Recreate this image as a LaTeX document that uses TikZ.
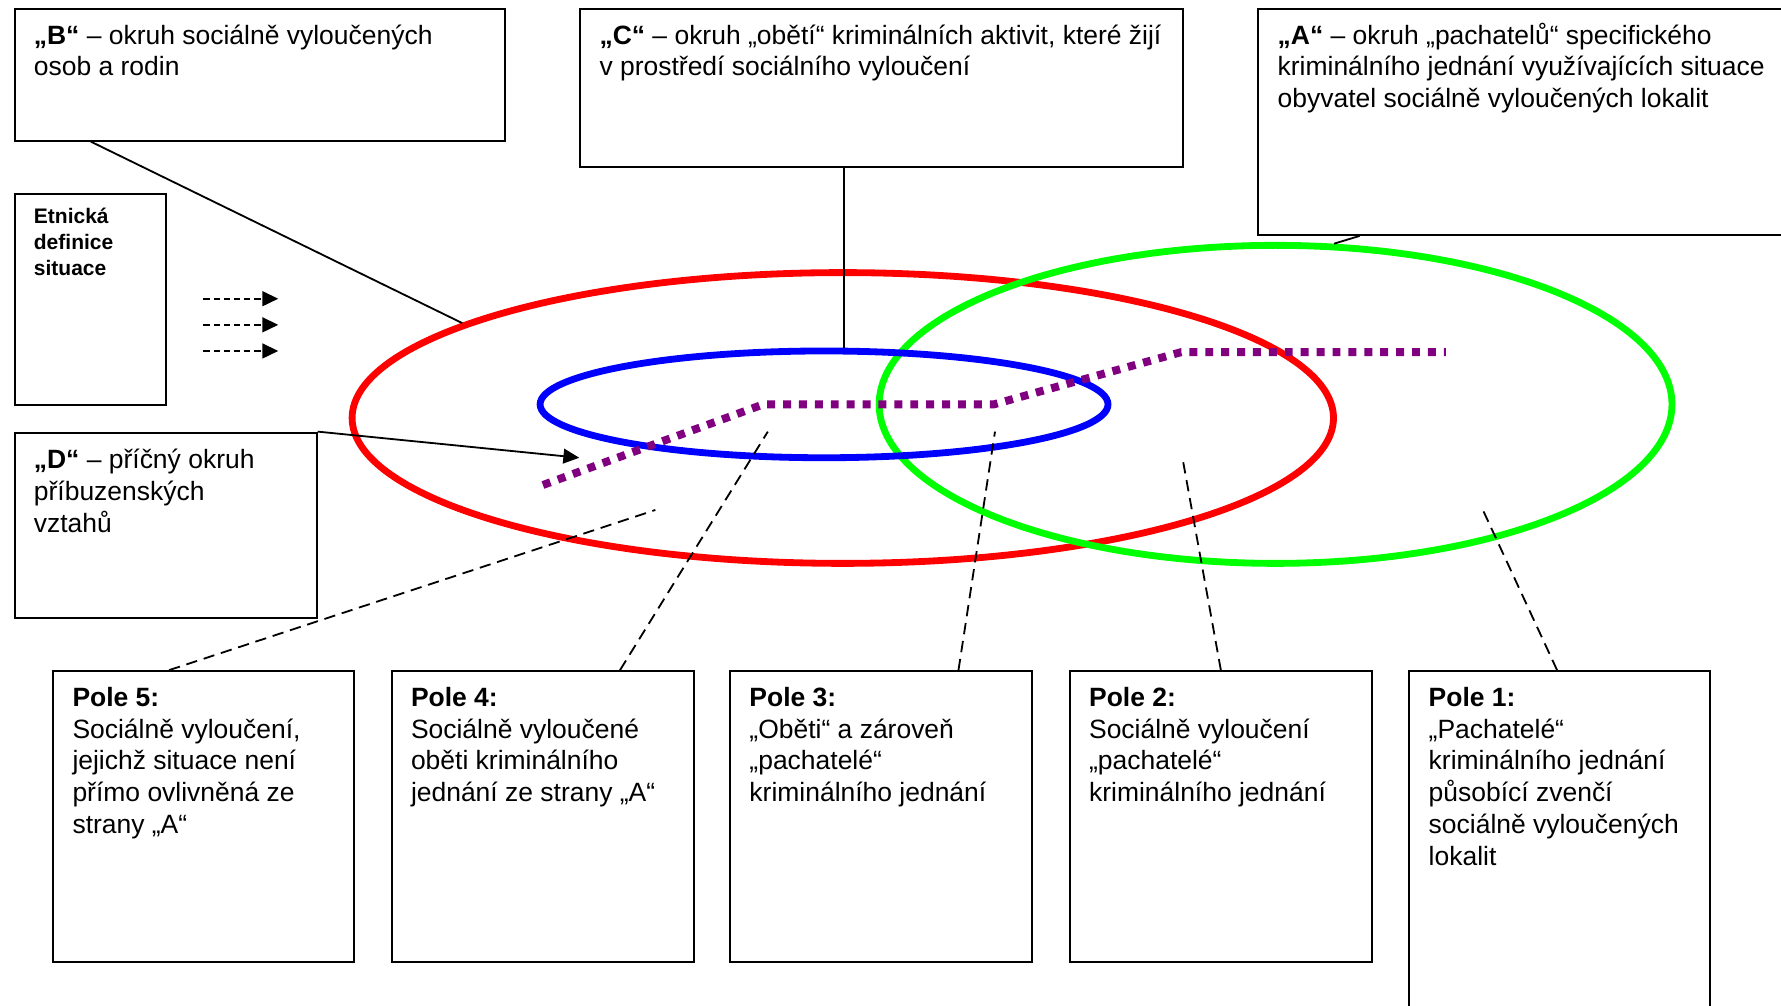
\documentclass[tikz,border=0pt]{standalone}
\usepackage{fontspec}
\setmainfont{Liberation Sans}
\usetikzlibrary{arrows.meta,shapes.geometric}
\definecolor{purpdot}{HTML}{800080}
\definecolor{ringred}{HTML}{FF0000}
\definecolor{ringgreen}{HTML}{00FF00}
\definecolor{ringblue}{HTML}{0000FF}
\newcommand{\bxtext}[4][31pt]{\parbox[c][#3][t]{#2}{\raggedright\rule{0pt}{#1}#4}}
\tikzset{
  box/.style={draw=black, line width=1.7pt, fill=white, inner xsep=17pt, inner ysep=0pt,
    anchor=north west, font=\fontsize{23.3}{28}\selectfont},
  smallbox/.style={box, font=\fontsize{18.5}{23}\selectfont\bfseries},
  ring/.style={ellipse, draw, line width=6pt, inner sep=0pt},
  link/.style={draw=black, line width=1.6pt},
  dashlink/.style={draw=black, line width=1.6pt, dash pattern=on 10pt off 6pt},
  etnarrow/.style={draw=black, line width=1.8pt, dash pattern=on 5.5pt off 3.5pt,
    -{Triangle[length=14pt,width=13pt]}},
  purp/.style={draw=purpdot, line width=7pt, dash pattern=on 7pt off 7pt},
}
\begin{document}
\begin{tikzpicture}[x=1pt,y=-1pt]
\useasboundingbox (0,0) rectangle (1568,885);
\clip (0,0) rectangle (1568,885);
\fill[white] (0,0) rectangle (1568,885);

% top boxes
\node[box] (B) at (12,7) {\bxtext{398pt}{116pt}{\textbf{„B“} – okruh sociálně vyloučených\\osob a rodin}};
\node[box] (C) at (510,7) {\bxtext{497pt}{139pt}{\textbf{„C“} – okruh „obětí“ kriminálních aktivit, které žijí\\v prostředí sociálního vyloučení}};
\node[box] (A) at (1107,7) {\bxtext{480pt}{199pt}{\textbf{„A“} – okruh „pachatelů“ specifického\\kriminálního jednání využívajících situace\\obyvatel sociálně vyloučených lokalit}};
\node[smallbox] (E) at (12,170) {\bxtext[26pt]{99pt}{186pt}{Etnická\\definice\\situace}};
\node[box] (D) at (12,380) {\bxtext[32pt]{232pt}{163pt}{\textbf{„D“} – příčný okruh\\příbuzenských\\vztahů}};

% bottom boxes
\node[box] (P5) at (46,590) {\bxtext{231pt}{256pt}{\textbf{Pole 5:}\\Sociálně vyloučení,\\jejichž situace není\\přímo ovlivněná ze\\strany „A“}};
\node[box] (P4) at (344,590) {\bxtext{232pt}{256pt}{\textbf{Pole 4:}\\Sociálně vyloučené\\oběti kriminálního\\jednání ze strany „A“}};
\node[box] (P3) at (642,590) {\bxtext{232pt}{256pt}{\textbf{Pole 3:}\\„Oběti“ a zároveň\\„pachatelé“\\kriminálního jednání}};
\node[box] (P2) at (941,590) {\bxtext{232pt}{256pt}{\textbf{Pole 2:}\\Sociálně vyloučení\\„pachatelé“\\kriminálního jednání}};
\node[box] (P1) at (1240,590) {\bxtext{231pt}{320pt}{\textbf{Pole 1:}\\„Pachatelé“\\kriminálního jednání\\působící zvenčí\\sociálně vyloučených\\lokalit}};

% rings
\node[ring, draw=ringred, minimum width=864pt, minimum height=256pt] (R) at (742,368) {};
\node[ring, draw=ringgreen, minimum width=698pt, minimum height=280pt] (G) at (1123,356) {};
\node[ring, draw=ringblue, minimum width=500pt, minimum height=94pt] (Bl) at (725.5,356) {};

% purple dotted path
\coordinate (q1) at (478,427);
\coordinate (q2) at (672,356);
\coordinate (q3) at (875,356);
\coordinate (q4) at (1040,310);
\coordinate (q5) at (1273,310);
\draw[purp] (q1) -- (q2) -- (q3) -- (q4) -- (q5);

% solid connectors
\draw[link] ([xshift=68pt]B.south west) -- (R.166.25);
\draw[link] ([xshift=-33.5pt]C.south) -- ([xshift=-33.5pt]C.south |- Bl.north);
\draw[link] ([xshift=90pt]A.south west) -- (G.70.7);
\coordinate (dtip) at (510,403);
\draw[link, -{Triangle[length=14pt,width=13pt]}] (D.north east) -- (dtip);

% etnicka arrows
\coordinate (e1s) at (179,263); \coordinate (e1t) at (245,263);
\coordinate (e2s) at (179,286); \coordinate (e2t) at (245,286);
\coordinate (e3s) at (179,309); \coordinate (e3t) at (245,309);
\draw[etnarrow] (e1s) -- (e1t);
\draw[etnarrow] (e2s) -- (e2t);
\draw[etnarrow] (e3s) -- (e3t);

% pole connectors
\coordinate (p5t) at (577,449);
\coordinate (p4t) at (676,380);
\coordinate (p3t) at (876,380);
\coordinate (p2t) at (1041,403);
\coordinate (p1t) at (1306,450);
\draw[dashlink] ([xshift=-30.5pt]P5.north) -- (p5t);
\draw[dashlink] ([xshift=68pt]P4.north) -- (p4t);
\draw[dashlink] ([xshift=68pt]P3.north) -- (p3t);
\draw[dashlink] (P2.north) -- (p2t);
\draw[dashlink] ([xshift=-2.5pt]P1.north) -- (p1t);
\end{tikzpicture}
\end{document}
